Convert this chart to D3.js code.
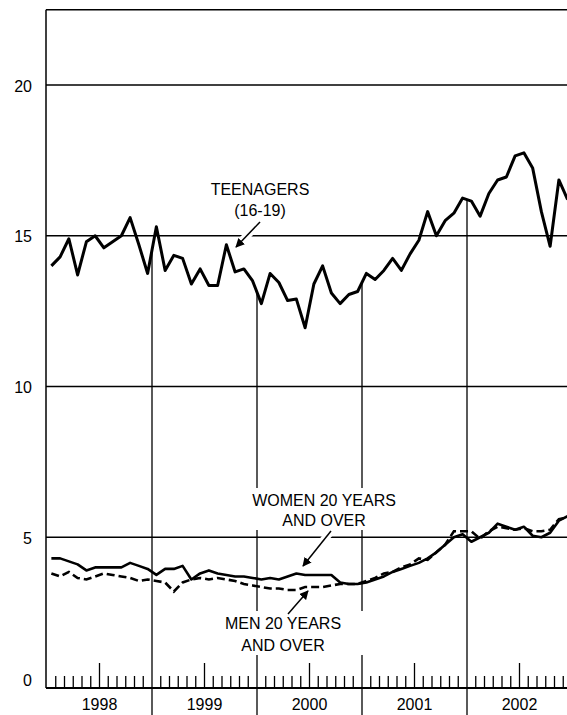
<!DOCTYPE html>
<html>
<head>
<meta charset="utf-8">
<script src="https://cdn.jsdelivr.net/npm/d3@7"></script>
<style>
  body { margin: 0; background: #fff; }
  svg { display: block; font-family: "Liberation Sans", Arial, sans-serif; }
</style>
</head>
<body>
<svg id="chart"></svg>
<script>
// monthly rates, Jan 1998 - Dec 2002
const years = ["1998", "1999", "2000", "2001", "2002"];
const yTicks = [0, 5, 10, 15, 20];

const teenagers = [
  14.0, 14.3, 14.9, 13.7, 14.8, 15.0, 14.6, 14.8, 15.0, 15.6, 14.7, 13.75,
  15.3, 13.85, 14.35, 14.25, 13.4, 13.9, 13.35, 13.35, 14.7, 13.8, 13.9, 13.5,
  12.75, 13.75, 13.45, 12.85, 12.9, 11.95, 13.4, 14.0, 13.1, 12.75, 13.05, 13.15,
  13.75, 13.55, 13.85, 14.25, 13.85, 14.4, 14.85, 15.8, 15.0, 15.5, 15.75, 16.25,
  16.15, 15.65, 16.4, 16.85, 16.95, 17.65, 17.75, 17.25, 15.8, 14.65, 16.85, 16.2
];

const women = [
  4.3, 4.3, 4.2, 4.1, 3.9, 4.0, 4.0, 4.0, 4.0, 4.15, 4.05, 3.95,
  3.75, 3.95, 3.95, 4.05, 3.6, 3.8, 3.9, 3.8, 3.75, 3.7, 3.7, 3.65,
  3.6, 3.65, 3.6, 3.7, 3.8, 3.75, 3.75, 3.75, 3.75, 3.5, 3.45, 3.45,
  3.5, 3.6, 3.7, 3.85, 3.95, 4.05, 4.15, 4.3, 4.5, 4.75, 5.0, 5.1,
  4.85, 5.0, 5.15, 5.45, 5.35, 5.25, 5.35, 5.05, 5.0, 5.15, 5.55, 5.7
];

const men = [
  3.8, 3.7, 3.85, 3.65, 3.6, 3.7, 3.8, 3.75, 3.7, 3.65, 3.55, 3.6,
  3.55, 3.5, 3.2, 3.5, 3.6, 3.65, 3.6, 3.65, 3.6, 3.55, 3.45, 3.4,
  3.35, 3.3, 3.3, 3.25, 3.25, 3.35, 3.35, 3.35, 3.4, 3.45, 3.45, 3.45,
  3.55, 3.65, 3.8, 3.85, 4.0, 4.1, 4.3, 4.25, 4.5, 4.75, 5.2, 5.2,
  5.2, 4.95, 5.2, 5.35, 5.3, 5.25, 5.3, 5.2, 5.2, 5.25, 5.6, 5.65
];

const width = 567, height = 715;
const left = 46, bottom = 688;

const svg = d3.select("#chart")
  .attr("width", width)
  .attr("height", height);

const x = d3.scaleLinear().domain([0, 60]).range([47, 572]);
const y = d3.scaleLinear().domain([0, 20]).range([bottom, 85]);
const topY = y(22.5);

/* gridlines */
svg.append("g")
  .selectAll("line")
  .data(yTicks.filter(d => d > 0))
  .enter()
  .append("line")
  .attr("x1", left).attr("x2", width)
  .attr("y1", d => y(d)).attr("y2", d => y(d))
  .attr("stroke", "#000").attr("stroke-width", 1.5);

/* frame */
svg.append("line")
  .attr("x1", left).attr("x2", width)
  .attr("y1", topY).attr("y2", topY)
  .attr("stroke", "#000").attr("stroke-width", 1.5);
svg.append("line")
  .attr("x1", left).attr("x2", left)
  .attr("y1", topY).attr("y2", bottom)
  .attr("stroke", "#000").attr("stroke-width", 1.5);

/* y labels */
svg.append("g")
  .selectAll("text")
  .data(yTicks)
  .enter()
  .append("text")
  .attr("x", 32)
  .attr("y", d => d === 0 ? bottom - 2 : y(d) + 6.5)
  .attr("text-anchor", "end")
  .attr("font-size", "16px")
  .text(d => d);

/* year separators, up to the teenager line */
const boundaries = [12, 24, 36, 48];
svg.append("g")
  .selectAll("line")
  .data(boundaries)
  .enter()
  .append("line")
  .attr("x1", d => x(d)).attr("x2", d => x(d))
  .attr("y1", height)
  .attr("y2", d => y((teenagers[d - 1] + teenagers[d]) / 2))
  .attr("stroke", "#000").attr("stroke-width", 1.3);

/* month ticks */
svg.append("g")
  .selectAll("line")
  .data(d3.range(1, 60).filter(k => k % 12 !== 0))
  .enter()
  .append("line")
  .attr("x1", d => x(d)).attr("x2", d => x(d))
  .attr("y1", bottom)
  .attr("y2", d => d % 12 === 6 ? bottom - 25 : bottom - 12)
  .attr("stroke", "#000").attr("stroke-width", 1.3);

/* baseline */
svg.append("line")
  .attr("x1", left).attr("x2", width)
  .attr("y1", bottom).attr("y2", bottom)
  .attr("stroke", "#000").attr("stroke-width", 2.2);

/* year labels */
svg.append("g")
  .selectAll("text")
  .data(years)
  .enter()
  .append("text")
  .attr("x", (d, i) => x(i * 12 + 6))
  .attr("y", 710)
  .attr("text-anchor", "middle")
  .attr("font-size", "16px")
  .text(d => d);

/* series */
const line = d3.line()
  .x((d, i) => x(i + 0.5))
  .y(d => y(d));

svg.append("path")
  .datum(men)
  .attr("d", line)
  .attr("fill", "none")
  .attr("stroke", "#000")
  .attr("stroke-width", 2.6)
  .attr("stroke-dasharray", "8,4");

svg.append("path")
  .datum(women)
  .attr("d", line)
  .attr("fill", "none")
  .attr("stroke", "#000")
  .attr("stroke-width", 2.6)
  .attr("stroke-linejoin", "round");

svg.append("path")
  .datum(teenagers)
  .attr("d", line)
  .attr("fill", "none")
  .attr("stroke", "#000")
  .attr("stroke-width", 3)
  .attr("stroke-linejoin", "round");

/* arrows: white halo first so they cut the gridlines */
const arrows = [
  [260, 222, 236, 247],
  [331, 531, 303, 566],
  [288, 614, 308, 591]
];

arrows.forEach(a => {
  svg.append("line")
    .attr("x1", a[0]).attr("y1", a[1]).attr("x2", a[2]).attr("y2", a[3])
    .attr("stroke", "#fff").attr("stroke-width", 8);
});

/* labels */
const labels = [
  { lines: ["TEENAGERS", "(16-19)"], cx: 260, y0: 195, gap: 21, box: false },
  { lines: ["WOMEN 20 YEARS", "AND OVER"], cx: 324, y0: 506, gap: 20, box: true },
  { lines: ["MEN 20 YEARS", "AND OVER"], cx: 283, y0: 629, gap: 22, box: true }
];

labels.forEach(l => {
  const g = svg.append("g");
  if (l.box) {
    g.append("rect")
      .attr("x", l.cx - 80).attr("y", l.y0 - 18)
      .attr("width", 160).attr("height", l.gap + 22)
      .attr("fill", "#fff");
  }
  l.lines.forEach((t, i) => {
    g.append("text")
      .attr("x", l.cx)
      .attr("y", l.y0 + i * l.gap)
      .attr("text-anchor", "middle")
      .attr("font-size", "16px")
      .text(t);
  });
});

svg.append("defs").append("marker")
  .attr("id", "head")
  .attr("viewBox", "0 0 10 10")
  .attr("refX", 9).attr("refY", 5)
  .attr("markerWidth", 9).attr("markerHeight", 9)
  .attr("markerUnits", "userSpaceOnUse")
  .attr("orient", "auto")
  .append("path")
  .attr("d", "M0,0 L10,5 L0,10 Z")
  .attr("fill", "#000");

arrows.forEach(a => {
  svg.append("line")
    .attr("x1", a[0]).attr("y1", a[1]).attr("x2", a[2]).attr("y2", a[3])
    .attr("stroke", "#000").attr("stroke-width", 1.5)
    .attr("marker-end", "url(#head)");
});
</script>
</body>
</html>
